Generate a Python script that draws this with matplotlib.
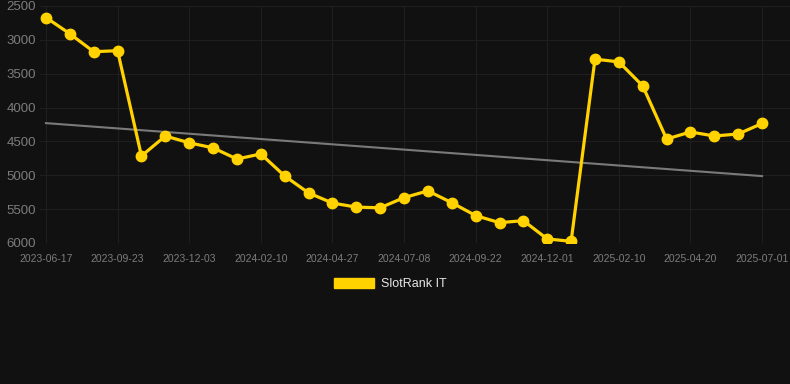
import numpy as np
import matplotlib.pyplot as plt
from matplotlib.patches import Patch

# SlotRank IT position over time (lower = better, axis inverted)
dates = ["2023-06-17", "2023-09-23", "2023-12-03", "2024-02-10", "2024-04-27",
         "2024-07-08", "2024-09-22", "2024-12-01", "2025-02-10", "2025-04-20",
         "2025-07-01"]
rank = [2670, 2910, 3175, 3160, 4715, 4420, 4520, 4595, 4760, 4685,
        5010, 5260, 5410, 5470, 5480, 5330, 5230, 5405, 5595, 5700,
        5670, 5940, 5975, 3285, 3325, 3680, 4465, 4360, 4420, 4390,
        4235]
y_ticks = [2500, 3000, 3500, 4000, 4500, 5000, 5500, 6000]

bg = "#111111"
fonts = ['Liberation Sans', 'DejaVu Sans']
plt.rcParams['font.family'] = fonts

fig = plt.figure(figsize=(7.9, 3.84), dpi=100, facecolor=bg)
ax = fig.add_axes([40 / 790, 1 - 243 / 384, 750 / 790, 237 / 384], facecolor=bg)

x = np.arange(len(rank))

# simple linear trend
k, b = np.polyfit(x, rank, 1)
ax.plot(x, k * x + b, color="#7a7a7a", linewidth=1.5, zorder=2)

ax.plot(x, rank, color="#FFD200", linewidth=2.3, marker="o", markersize=7.5,
        zorder=3)

ax.set_ylim(6000, 2500)
ax.set_xlim(-0.25, 31.17)
ax.set_yticks(y_ticks)
ax.set_xticks(np.arange(0, len(rank), 3))
ax.set_xticklabels(dates)

ax.grid(True, color="#1f1f1f", linewidth=0.8)
ax.set_axisbelow(True)
for s in ax.spines.values():
    s.set_visible(False)
ax.tick_params(axis="y", colors="#7c7c7c", labelsize=9.5, length=0, pad=3)
ax.tick_params(axis="x", colors="#7c7c7c", labelsize=7.5, length=0, pad=8)

handle = Patch(facecolor="#FFD200", edgecolor="#FFD200")
fig.legend([handle], ["SlotRank IT"], loc="center", bbox_to_anchor=(0.494, 1 - 284 / 384),
           frameon=False, labelcolor="#e6e6e6", handlelength=3.2,
           handleheight=0.95, handletextpad=0.55,
           prop={"family": fonts, "size": 9})

fig.savefig("out.png", dpi=100, facecolor=bg)
